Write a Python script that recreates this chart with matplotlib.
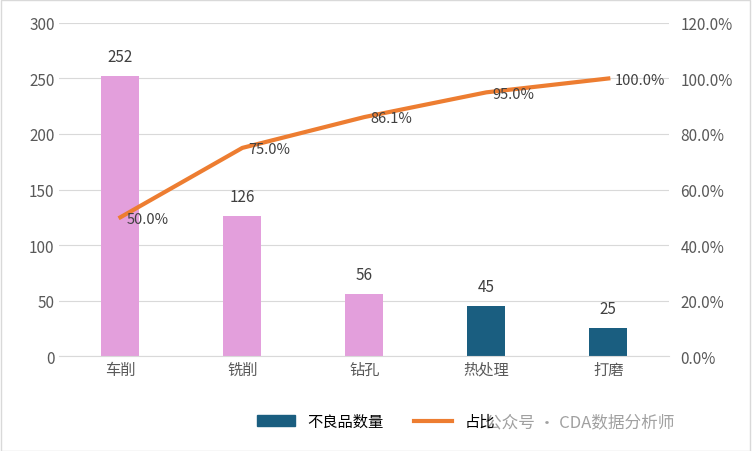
import matplotlib
matplotlib.use("Agg")
import matplotlib.pyplot as plt
from matplotlib.patches import Patch
from matplotlib.lines import Line2D

plt.rcParams['font.family'] = ['Noto Sans CJK SC', 'DejaVu Sans']

categories = ['车削', '铣削', '钻孔', '热处理', '打磨']
counts = [252, 126, 56, 45, 25]
cum_pct = [50.0, 75.0, 86.1, 95.0, 100.0]
bar_colors = ['#E39FDC', '#E39FDC', '#E39FDC', '#1A5E80', '#1A5E80']

fig = plt.figure(figsize=(7.52, 4.52), dpi=100)
ax = fig.add_axes([0.079, 0.21, 0.811, 0.737])
x = range(len(categories))
ax.bar(x, counts, width=0.31, color=bar_colors, zorder=2)
for i, v in enumerate(counts):
    ax.text(i, v + 10, str(v), ha='center', va='bottom', fontsize=11, color='#404040')
ax.set_ylim(0, 300)
ax.set_yticks(range(0, 301, 50))
ax.set_xlim(-0.5, 4.5)
ax.set_xticks(list(x))
ax.set_xticklabels(categories, fontsize=11, color='#404040')
ax.grid(axis='y', color='#D9D9D9', linewidth=0.8, zorder=0)
for s in ['top', 'left', 'right']:
    ax.spines[s].set_visible(False)
ax.spines['bottom'].set_color('#D9D9D9')
ax.tick_params(length=0, labelsize=11, colors='#595959')

ax2 = ax.twinx()
ax2.plot(list(x), cum_pct, color='#ED7D31', linewidth=3, zorder=3)
for i, p in enumerate(cum_pct):
    ax2.text(i + 0.05, p - 0.5, f'{p:.1f}%', ha='left', va='center', fontsize=10.5, color='#404040')
ax2.set_ylim(0, 120)
ax2.set_yticks(range(0, 121, 20))
ax2.set_yticklabels([f'{t:.1f}%' for t in range(0, 121, 20)])
for s in ['top', 'left', 'right', 'bottom']:
    ax2.spines[s].set_visible(False)
ax2.tick_params(length=0, labelsize=11, colors='#595959', pad=8)

handles = [Patch(color='#1A5E80', label='不良品数量'),
           Line2D([0], [0], color='#ED7D31', linewidth=3, label='占比')]
fig.legend(handles=handles, loc='center', bbox_to_anchor=(0.5, 0.065), ncol=2,
           frameon=False, fontsize=11, handlelength=2.5, columnspacing=2)
fig.text(0.645, 0.065, '公众号 · CDA数据分析师', fontsize=12, color='#A0A0A0', va='center')
fig.patches.append(plt.Rectangle((0.001, 0.001), 0.997, 0.997, transform=fig.transFigure,
                                 fill=False, edgecolor='#D9D9D9', linewidth=1))
fig.savefig('out.png', dpi=100)
